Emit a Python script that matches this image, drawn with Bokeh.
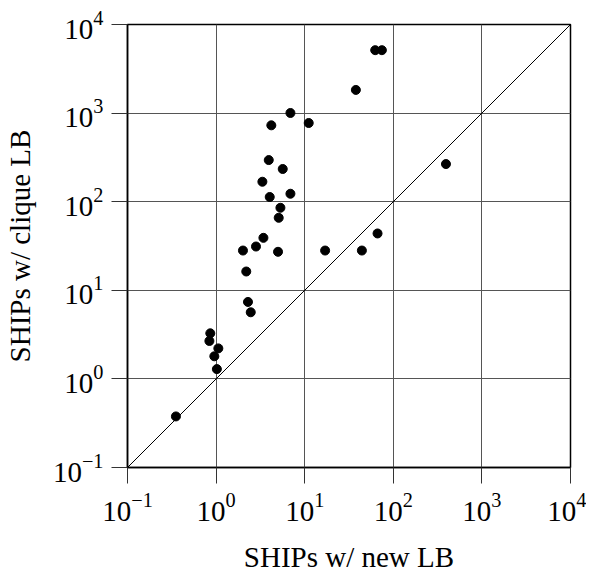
from bokeh.plotting import figure
from bokeh.embed import file_html
from bokeh.resources import INLINE
from bokeh.models import ColumnDataSource

# Data
ships_new_lb = [62.5, 74.3, 37.8, 6.9, 4.2, 11.1, 3.93, 5.65, 3.33, 4.03,
                6.9, 5.32, 5.09, 3.42, 2.82, 2.01, 5.0, 17.0, 44.2, 66.4,
                393.0, 2.19, 2.29, 2.46, 0.86, 0.84, 1.06, 0.955, 1.02, 0.352]
ships_clique_lb = [5130, 5130, 1826, 1003, 728, 773, 295, 234, 168, 113,
                   123, 85.4, 65.8, 39.1, 31.2, 28.1, 27.2, 28.1, 28.1, 43.8,
                   266, 16.3, 7.39, 5.65, 3.27, 2.68, 2.21, 1.80, 1.29, 0.377]
diag = [0.1, 1e4]
axis_min, axis_max = 0.1, 1e4

FONT = "Liberation Serif"

p = figure(x_axis_type="log", y_axis_type="log",
           x_range=(axis_min, axis_max), y_range=(axis_min, axis_max),
           frame_width=443, frame_height=443,
           min_border_left=121, min_border_top=24, min_border_right=16,
           min_border_bottom=80,
           output_backend="svg", toolbar_location=None)

p.background_fill_color = "white"
p.border_fill_color = "white"
p.outline_line_color = "black"
p.outline_line_width = 1.5

for g in (p.xgrid, p.ygrid):
    g.grid_line_color = "#555555"
    g.grid_line_width = 1
    g.minor_grid_line_color = None

for ax in (p.xaxis, p.yaxis):
    ax.axis_line_color = "black"
    ax.axis_line_width = 1.5
    ax.major_tick_in = 0
    ax.major_tick_out = 16
    ax.major_tick_line_color = "#333333"
    ax.minor_tick_line_color = None
    ax.major_label_text_font = FONT
    ax.major_label_text_font_size = "29px"
    ax.major_label_text_color = "black"
    ax.axis_label_text_font = FONT
    ax.axis_label_text_font_size = "29px"
    ax.axis_label_text_font_style = "normal"
    ax.axis_label_text_color = "black"

p.xaxis.major_label_standoff = 9
p.yaxis.major_label_standoff = 8
p.xaxis.axis_label_standoff = 17
p.yaxis.axis_label_standoff = 14
p.xaxis.axis_label = "SHIPs w/ new LB"
p.yaxis.axis_label = "SHIPs w/ clique LB"

p.line(x=diag, y=diag, line_color="black", line_width=1)

src = ColumnDataSource(data=dict(x=ships_new_lb, y=ships_clique_lb))
p.scatter("x", "y", source=src, size=9, fill_color="black", line_color="black")

open("out.html", "w").write(file_html(p, INLINE))
